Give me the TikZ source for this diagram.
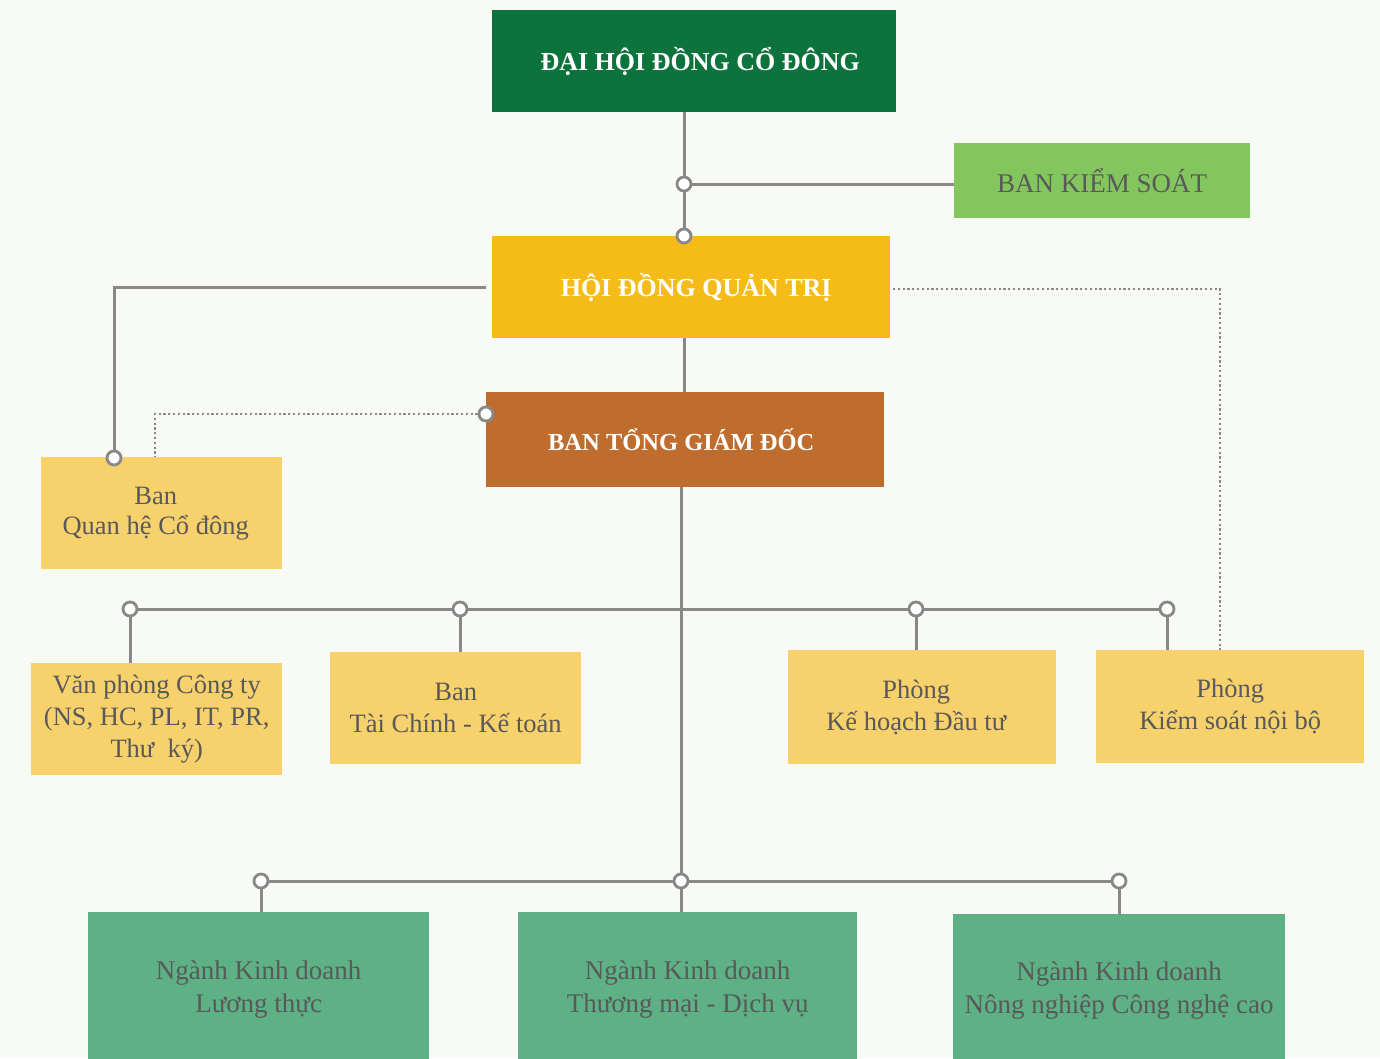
\documentclass[tikz,border=0pt]{standalone}
\usepackage{fontspec}
\setmainfont{Liberation Serif}
\usetikzlibrary{backgrounds}
\definecolor{bgc}{HTML}{F8FAF6}
\definecolor{dgreen}{HTML}{0C733C}
\definecolor{lgreen}{HTML}{84C65E}
\definecolor{gold}{HTML}{F5BC19}
\definecolor{brownc}{HTML}{BE6D2E}
\definecolor{ylw}{HTML}{F7D16B}
\definecolor{mgreen}{HTML}{5EB085}
\definecolor{conn}{HTML}{888888}
\definecolor{txt}{HTML}{595959}
\begin{document}
\begin{tikzpicture}[x=1pt,y=-1pt,
  box/.style={rectangle, inner sep=0pt, anchor=north west, align=center},
  title/.style={box, text=white, font=\fontsize{26}{30}\selectfont\bfseries},
  unit/.style={box, fill=ylw, text=txt, font=\fontsize{26.5}{32}\selectfont},
  biz/.style={box, fill=mgreen, text=txt, font=\fontsize{27}{33}\selectfont},
  link/.style={draw=conn, line width=3pt},
  dotlink/.style={draw=conn, line width=2.4pt, dash pattern=on 2.2pt off 2.6pt},
  joint/.style={circle, draw=conn, fill=white, line width=2.8pt, minimum size=14pt, inner sep=0pt}]
\useasboundingbox (0,0) rectangle (1380,1058);

% boxes
\node[title, fill=dgreen, minimum width=404pt, minimum height=102pt] (dh) at (492,10) {\hspace*{12pt}ĐẠI HỘI ĐỒNG CỔ ĐÔNG};
\node[box, fill=lgreen, text=txt, font=\fontsize{27}{30}\selectfont, minimum width=296pt, minimum height=75pt] (bks) at (954,143) {BAN KIỂM SOÁT};
\node[title, fill=gold, minimum width=398pt, minimum height=102pt] (hd) at (492,236) {\hspace*{10pt}HỘI ĐỒNG QUẢN TRỊ};
\node[title, fill=brownc, font=\fontsize{24.5}{30}\selectfont\bfseries, minimum width=398pt, minimum height=95pt] (bt) at (486,392) {BAN TỔNG GIÁM ĐỐC\hspace*{8pt}};
\node[unit, minimum width=241pt, minimum height=112pt] (qh) at (41,457) {Ban\hspace*{12pt}\\[-2pt]Quan hệ Cổ đông\hspace*{12pt}};
\node[unit, minimum width=251pt, minimum height=112pt] (vp) at (31,663) {Văn phòng Công ty\\(NS, HC, PL, IT, PR,\\Thư~ ký)};
\node[unit, minimum width=251pt, minimum height=112pt] (tc) at (330,652) {Ban\\Tài Chính - Kế toán};
\node[unit, minimum width=268pt, minimum height=114pt] (kh) at (788,650) {Phòng\hspace*{12pt}\\Kế hoạch Đầu tư\hspace*{12pt}};
\node[unit, minimum width=268pt, minimum height=113pt] (ks) at (1096,650) {Phòng\\Kiểm soát nội bộ};
\node[biz, minimum width=341pt, minimum height=154pt] (nl) at (88,912) {Ngành Kinh doanh\\Lương thực};
\node[biz, minimum width=339pt, minimum height=154pt] (ntm) at (518,912) {Ngành Kinh doanh\\Thương mại - Dịch vụ};
\node[biz, minimum width=332pt, minimum height=152pt] (nnn) at (953,914) {Ngành Kinh doanh\\Nông nghiệp Công nghệ cao};

% joints
\node[joint] (j1) at (684,184) {};
\node[joint] (j2) at (684,236) {};
\node[joint] (j3) at (114,458) {};
\node[joint] (j4) at (486,414) {};
\node[joint] (j5) at (130,609) {};
\node[joint] (j6) at (460,609) {};
\node[joint] (j7) at (916,609) {};
\node[joint] (j8) at (1167,609) {};
\node[joint] (j9) at (261,881) {};
\node[joint] (j10) at (681,881) {};
\node[joint] (j11) at (1119,881) {};
\coordinate (q1) at (155,457);
\coordinate (k1) at (1220,650);
\coordinate (h1) at (486,287);
\coordinate (h2) at (893,289);

\begin{scope}[on background layer]
\fill[bgc] (0,0) rectangle (1380,1058);
\draw[link] (dh.south -| j1) -- (j1) -- (j2);
\draw[link] (j1) -- (j1 -| bks.west);
\draw[link] (h1) -| (j3);
\draw[dotlink] (j4) -| (q1);
\draw[dotlink] (h2) -| (k1);
\draw[link] (hd.south -| j2) -- (bt.north -| j2);
\draw[link] (bt.south -| j10) -- (j10);
\draw[link] (j5) -- (j8);
\draw[link] (j5) -- (vp.north -| j5);
\draw[link] (j6) -- (tc.north -| j6);
\draw[link] (j7) -- (kh.north -| j7);
\draw[link] (j8) -- (ks.north -| j8);
\draw[link] (j9) -- (j11);
\draw[link] (j9) -- (nl.north -| j9);
\draw[link] (j10) -- (ntm.north -| j10);
\draw[link] (j11) -- (nnn.north -| j11);
\end{scope}
\end{tikzpicture}
\end{document}
